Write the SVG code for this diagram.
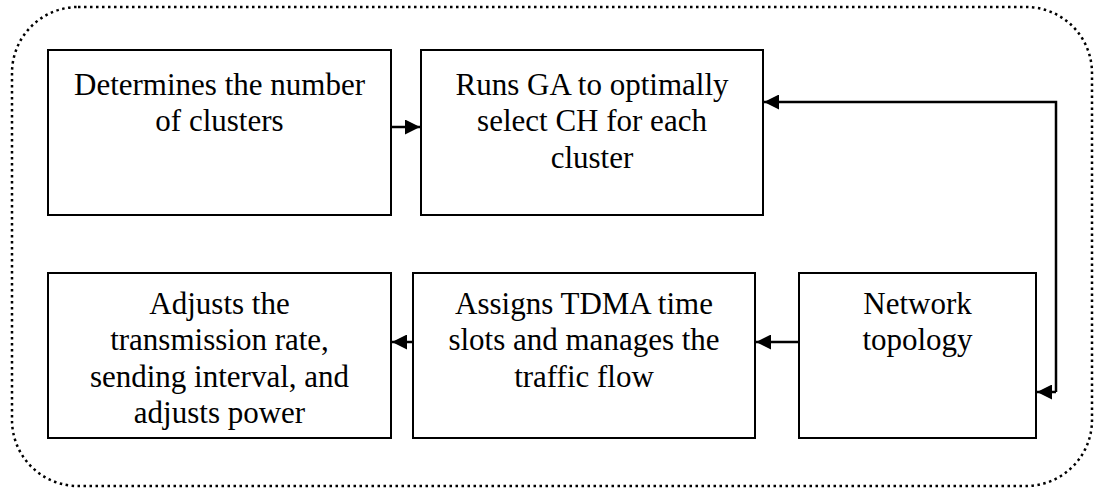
<svg xmlns="http://www.w3.org/2000/svg" width="1094" height="488" viewBox="0 0 1094 488">
  <style>
    .box { fill: #ffffff; stroke: #000000; stroke-width: 2; }
    .lbl { font-family: "Liberation Serif", "Times New Roman", serif; font-size: 31px; fill: #000000; text-anchor: middle; }
    .wire { fill: none; stroke: #000000; stroke-width: 2.5; }
    .frame { fill: none; stroke: #000000; stroke-width: 2.5; stroke-dasharray: 2.5 3.5; }
  </style>
  <defs>
    <marker id="head" viewBox="0 0 10 10" refX="10" refY="5" markerWidth="6" markerHeight="6" markerUnits="strokeWidth" orient="auto">
      <path d="M0,0 L10,5 L0,10 z" fill="#000000"/>
    </marker>
  </defs>
  <rect width="1094" height="488" fill="#ffffff"/>

  <!-- dotted outer boundary -->
  <rect class="frame" x="12" y="7" width="1080" height="479" rx="66" ry="66"/>

  <g id="n-clusters">
    <rect class="box" x="48" y="50" width="343" height="165"/>
    <text class="lbl" x="219.5" y="95">Determines the number</text>
    <text class="lbl" x="219.5" y="131">of clusters</text>
  </g>

  <g id="n-ga">
    <rect class="box" x="421" y="50" width="342" height="165"/>
    <text class="lbl" x="592" y="95">Runs GA to optimally</text>
    <text class="lbl" x="592" y="131">select CH for each</text>
    <text class="lbl" x="592" y="168">cluster</text>
  </g>

  <g id="n-adjust">
    <rect class="box" x="48" y="273" width="343" height="165"/>
    <text class="lbl" x="219.5" y="314">Adjusts the</text>
    <text class="lbl" x="219.5" y="350">transmission rate,</text>
    <text class="lbl" x="219.5" y="387">sending interval, and</text>
    <text class="lbl" x="219.5" y="423">adjusts power</text>
  </g>

  <g id="n-tdma">
    <rect class="box" x="413" y="273" width="342" height="165"/>
    <text class="lbl" x="584" y="314">Assigns TDMA time</text>
    <text class="lbl" x="584" y="350">slots and manages the</text>
    <text class="lbl" x="584" y="387">traffic flow</text>
  </g>

  <g id="n-topology">
    <rect class="box" x="799" y="273" width="237" height="165"/>
    <text class="lbl" x="917.5" y="314">Network</text>
    <text class="lbl" x="917.5" y="350">topology</text>
  </g>

  <g id="connectors">
    <path class="wire" d="M391,127 L420,127" marker-end="url(#head)"/>
    <path class="wire" d="M1056,392 L1056,102 L764,102" marker-end="url(#head)"/>
    <path class="wire" d="M1056,392 L1037,392" marker-end="url(#head)"/>
    <path class="wire" d="M799,342 L756,342" marker-end="url(#head)"/>
    <path class="wire" d="M413,342 L392,342" marker-end="url(#head)"/>
  </g>
</svg>
